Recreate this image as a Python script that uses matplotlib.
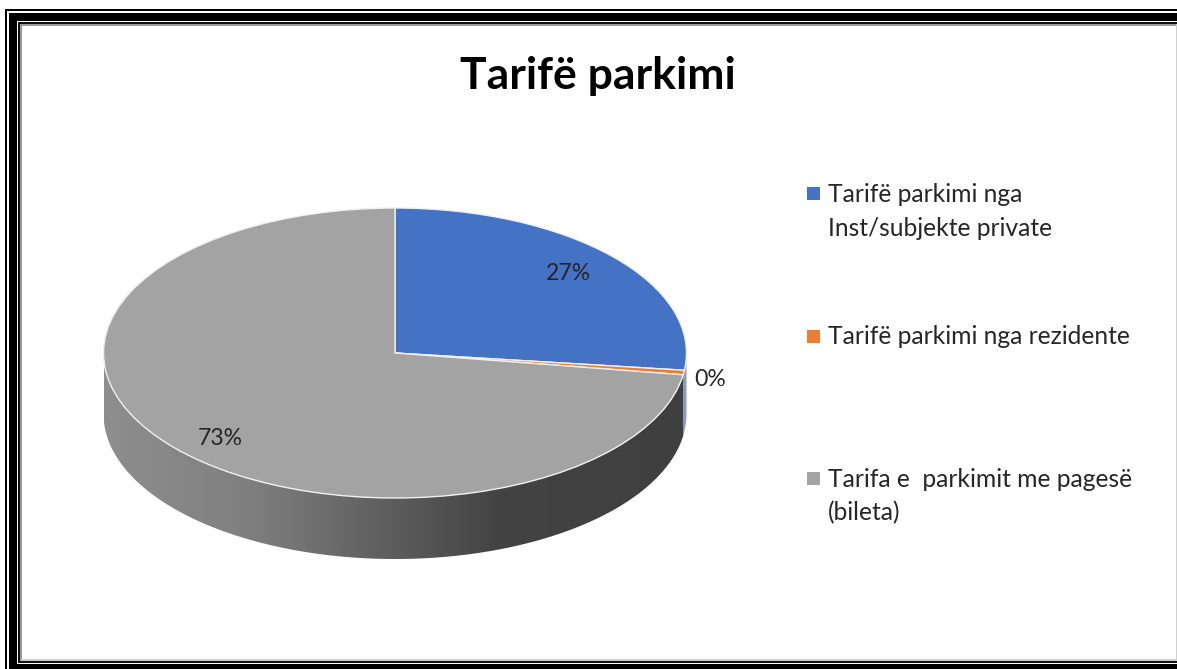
import numpy as np
import matplotlib
matplotlib.use("Agg")
import matplotlib.pyplot as plt
from matplotlib.patches import Rectangle, Polygon
from matplotlib.colors import LinearSegmentedColormap

TITLE = "Tarifë parkimi"
CATEGORIES = ["Tarifë parkimi nga\nInst/subjekte private",
              "Tarifë parkimi nga rezidente",
              "Tarifa e  parkimit me pagesë\n(bileta)"]
VALUES = [26.9, 0.5, 72.6]
VALUE_LABELS = ["27%", "0%", "73%"]
COLORS = ["#4472C4", "#ED7D31", "#A3A3A3"]

W, H = 1177, 669
plt.rcParams['font.family'] = ['Lato', 'DejaVu Sans']
fig = plt.figure(figsize=(W/100, H/100), dpi=100, facecolor="white")

CX, CY, RX, RY, DEPTH = 395, 353, 291.5, 145, 61
ax = fig.add_axes([0, 0, 1, 1])
wedges, _ = ax.pie(VALUES, colors=COLORS, startangle=90, counterclock=False,
                   radius=1, wedgeprops=dict(edgecolor="#f0f0f0", linewidth=1.0, zorder=5))
ax.set_aspect("auto")
ax.axis("off")

# extruded side wall
d = DEPTH/RY
end_angle = 90 - 360*(VALUES[0]+VALUES[1])/sum(VALUES)
th = np.radians(np.linspace(end_angle, -180, 300))
xs, ys = np.cos(th), np.sin(th)
wall = Polygon(np.r_[np.c_[xs, ys], np.c_[xs[::-1], ys[::-1]-d]], closed=True,
               transform=ax.transData, facecolor="none", edgecolor="none")
ax.add_patch(wall)
cmap = LinearSegmentedColormap.from_list("wall", [(0, "#8e8e8e"), (0.25, "#7f7f7f"), (0.5, "#5c5c5c"),
                                                  (0.68, "#434343"), (1, "#3f3f3f")])
im = ax.imshow(np.linspace(0, 1, 512)[None, :], cmap=cmap, extent=(-1, 1, -1-d, 0.2),
               aspect="auto", zorder=1)
im.set_clip_path(wall)
ax.set_xlim(-CX/RX, (W-CX)/RX)
ax.set_ylim((CY-H)/RY, CY/RY)

# blue/orange wall sliver at the right
th2 = np.radians(np.linspace(0, end_angle, 30))
x2, y2 = np.cos(th2), np.sin(th2)
ax.add_patch(Polygon(np.r_[np.c_[x2, y2], np.c_[x2[::-1], y2[::-1]-d]], closed=True,
                     facecolor="#8d9db8", edgecolor="none", zorder=0.9))

# frame, in pixels
def band(l, t, r, b, color):
    fig.add_artist(Rectangle((l, H-b), r-l, b-t, transform=None, facecolor=color, edgecolor="none"))

def ring(l, t, r, b, w, color):
    band(l, t, r, t+w, color); band(l, b-w, r, b, color)
    band(l, t, l+w, b, color); band(r-w, t, r, b, color)

ring(5, 9, W+20, H+20, 2, "black")
ring(9, 13, W+12, H+12, 8, "black")
band(9, 664.3, W, H, "black")
ring(18, 22, W+5, 663, 2.2, "#111111")
ring(20, 24, W+2, 660.8, 1.5, "#9a9a9a")
band(21, 659, W, 660.8, "#cfcfcf")
band(W-1.5, 24, W, 661, "#d0d0d0")

fig.text(598/W, 1-76/H, TITLE, ha="center", va="center", fontsize=32, fontweight="bold", color="black")

# value labels
LAB = [(568, 274), (710, 379.5), (220, 438.5)]
for (px, py), s in zip(LAB, VALUE_LABELS):
    fig.text(px/W, 1-py/H, s, ha="center", va="center", fontsize=16.6, color="#262626")

# legend
LEG = [(194.5, 228.5), (337, None), (479.5, 512.5)]
SWATCH_Y = [193, 336, 478]
for c, cat, (y1, y2), sy in zip(COLORS, CATEGORIES, LEG, SWATCH_Y):
    fig.add_artist(Rectangle((807, H-sy-6.5), 13, 13, transform=None, facecolor=c, edgecolor="none"))
    for line, y in zip(cat.split("\n"), (y1, y2)):
        fig.text(828/W, 1-y/H, line, ha="left", va="center", fontsize=17.7, color="#262626")

fig.savefig("out.png", dpi=100)
